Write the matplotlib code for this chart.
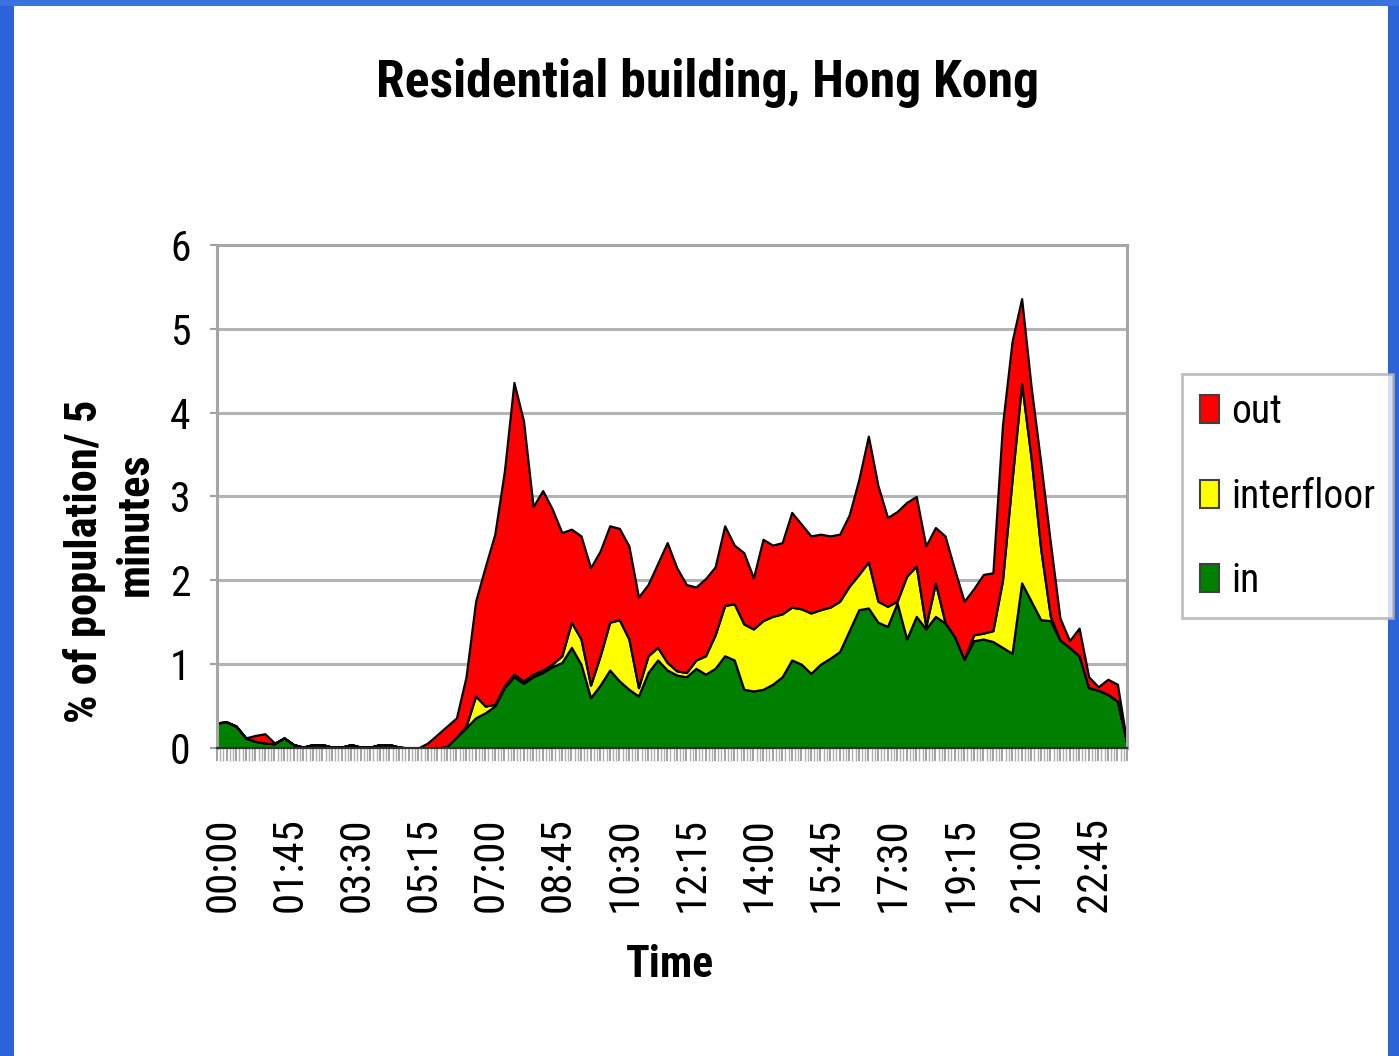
import matplotlib
matplotlib.use("Agg")
import matplotlib.pyplot as plt
import matplotlib.transforms as mtransforms
from matplotlib.patches import Patch, Rectangle
from matplotlib import font_manager

# ---------------- data (15-minute slots, % of population / 5 minutes) -------
times = [f"{h:02d}:{m:02d}" for h in range(24) for m in (0, 15, 30, 45)]

in_vals = [0.30, 0.31, 0.26, 0.12, 0.08, 0.06, 0.05, 0.12, 0.04, 0.01, 0.04, 0.04,
           0.01, 0.01, 0.04, 0.01, 0.01, 0.04, 0.04, 0.01, 0.00, 0.00, 0.00, 0.00,
           0.02, 0.13, 0.24, 0.36, 0.42, 0.50, 0.72, 0.85, 0.77, 0.85, 0.90, 0.97,
           1.02, 1.20, 1.00, 0.60, 0.75, 0.93, 0.80, 0.70, 0.62, 0.90, 1.05, 0.93,
           0.87, 0.85, 0.95, 0.88, 0.95, 1.10, 1.05, 0.70, 0.68, 0.70, 0.76, 0.85,
           1.05, 1.00, 0.89, 1.00, 1.07, 1.15, 1.40, 1.65, 1.67, 1.50, 1.45, 1.73,
           1.30, 1.57, 1.42, 1.57, 1.49, 1.33, 1.06, 1.28, 1.30, 1.27, 1.20, 1.13,
           1.97, 1.75, 1.53, 1.52, 1.29, 1.20, 1.10, 0.72, 0.69, 0.64, 0.56, 0.05]

interfloor_vals = [0.00, 0.00, 0.00, 0.00, 0.00, 0.00, 0.00, 0.00, 0.00, 0.00, 0.00, 0.00,
                   0.00, 0.00, 0.00, 0.00, 0.00, 0.00, 0.00, 0.00, 0.00, 0.00, 0.00, 0.00,
                   0.00, 0.00, 0.02, 0.26, 0.08, 0.02, 0.02, 0.03, 0.03, 0.03, 0.03, 0.03,
                   0.08, 0.30, 0.30, 0.15, 0.35, 0.57, 0.73, 0.60, 0.10, 0.20, 0.15, 0.09,
                   0.05, 0.05, 0.10, 0.22, 0.40, 0.60, 0.67, 0.78, 0.74, 0.82, 0.81, 0.75,
                   0.63, 0.66, 0.72, 0.65, 0.61, 0.60, 0.53, 0.42, 0.55, 0.25, 0.24, 0.02,
                   0.75, 0.60, 0.03, 0.40, 0.01, 0.00, 0.00, 0.07, 0.07, 0.13, 0.80, 2.07,
                   2.38, 1.70, 0.84, 0.05, 0.00, 0.00, 0.00, 0.00, 0.00, 0.00, 0.00, 0.00]

out_vals = [0.00, 0.00, 0.00, 0.00, 0.07, 0.11, 0.01, 0.00, 0.00, 0.00, 0.00, 0.00,
            0.00, 0.00, 0.00, 0.00, 0.00, 0.00, 0.00, 0.00, 0.00, 0.00, 0.06, 0.16,
            0.24, 0.23, 0.59, 1.13, 1.66, 2.03, 2.56, 3.48, 3.10, 2.00, 2.14, 1.85,
            1.47, 1.11, 1.23, 1.40, 1.25, 1.15, 1.09, 1.11, 1.08, 0.85, 1.00, 1.43,
            1.23, 1.05, 0.87, 0.92, 0.81, 0.95, 0.70, 0.85, 0.61, 0.97, 0.85, 0.85,
            1.13, 1.01, 0.92, 0.90, 0.85, 0.80, 0.85, 1.13, 1.50, 1.38, 1.06, 1.07,
            0.88, 0.83, 0.96, 0.66, 1.03, 0.80, 0.69, 0.55, 0.70, 0.69, 1.85, 1.65,
            1.01, 0.85, 1.03, 0.88, 0.26, 0.08, 0.33, 0.13, 0.04, 0.18, 0.20, 0.00]

series_names = ["in", "interfloor", "out"]
series_colors = ["#008000", "#ffff00", "#ff0000"]
label_every = 7
y_ticks = [0, 1, 2, 3, 4, 5, 6]

# ---------------- fonts ----------------
avail = {f.name for f in font_manager.fontManager.ttflist}
narrow = [f for f in ["Liberation Sans Narrow", "Arial Narrow", "Roboto Condensed",
                      "Open Sans Condensed", "Noto Sans Condensed"] if f in avail]
FAM = narrow[:1] + [f for f in ["Liberation Sans", "DejaVu Sans"] if f in avail]
plt.rcParams["font.family"] = FAM

W, H = 1399, 1056
fig = plt.figure(figsize=(W / 100, H / 100), dpi=100, facecolor="white")

# screenshot window frame (blue edges)
fig.patches.append(Rectangle((0, 0), 14 / W, 1, transform=fig.transFigure,
                             facecolor="#2c63d8", edgecolor="none", zorder=0))
fig.patches.append(Rectangle((1 - 11 / W, 0), 11 / W, 1, transform=fig.transFigure,
                             facecolor="#2c63d8", edgecolor="none", zorder=0))
fig.patches.append(Rectangle((0, 1 - 6 / H), 1, 6 / H, transform=fig.transFigure,
                             facecolor="#3a72e0", edgecolor="none", zorder=0))

left, right = 217 / W, 1127 / W
bottom, top = 1 - 748 / H, 1 - 245 / H
ax = fig.add_axes([left, bottom, right - left, top - bottom])

x = list(range(len(times)))
ax.stackplot(x, in_vals, interfloor_vals, out_vals, colors=series_colors,
             edgecolor="black", linewidth=1.6, labels=series_names)

ax.set_xlim(0, len(times) - 1)
ax.set_ylim(0, 6)
ax.set_yticks(y_ticks)
ax.set_yticklabels([str(v) for v in y_ticks], fontsize=30)
ax.yaxis.grid(True, color="#b4b4b4", linewidth=2.2)
ax.set_axisbelow(True)

ax.set_xticks(x)
ax.set_xticklabels([t if i % label_every == 0 else "" for i, t in enumerate(times)],
                   rotation=90, fontsize=31)
ax.set_xticks([v / 3 for v in range(3 * (len(times) - 1) + 1)], minor=True)
ax.tick_params(axis="x", which="major", length=9, width=1.2, color="#909090", pad=41)
ax.tick_params(axis="x", which="minor", length=9, width=1.0, color="#b0b0b0")
ax.tick_params(axis="y", length=5, width=1.5, color="#a0a0a0", pad=14)

offset = mtransforms.ScaledTranslation(6 / 100, 0, fig.dpi_scale_trans)
for lab in ax.get_xticklabels():
    lab.set_transform(lab.get_transform() + offset)

for s in ["left", "right", "top"]:
    ax.spines[s].set_color("#a6a6a6")
    ax.spines[s].set_linewidth(2.2)
ax.spines["bottom"].set_color("#303030")
ax.spines["bottom"].set_linewidth(1.6)

# texts
t_title = fig.text(708 / W, 1 - 83 / H, "Residential building, Hong Kong", ha="center",
                   va="center", fontsize=31, fontweight="bold")
t_time = fig.text(670 / W, 1 - 965 / H, "Time", ha="center", va="center",
                  fontsize=27, fontweight="bold")
t_y1 = fig.text(85 / W, 1 - 561 / H, "% of population/ 5", rotation=90, ha="center",
                va="center", fontsize=27, fontweight="bold")
t_y2 = fig.text(136 / W, 1 - 524 / H, "minutes", rotation=90, ha="center",
                va="center", fontsize=27, fontweight="bold")

# legend (reverse order: out, interfloor, in)
handles = [Patch(facecolor=c, edgecolor="#404040", linewidth=1.5)
           for c in series_colors][::-1]
leg = fig.legend(handles, series_names[::-1], loc="center",
                 bbox_to_anchor=((1188 + 1387) / 2 / W, 1 - (370 + 622) / 2 / H),
                 fontsize=28.5, frameon=True, fancybox=False, shadow=False,
                 handlelength=0.5, handleheight=0.72, handletextpad=0.3,
                 labelspacing=1.15, borderpad=0.45, borderaxespad=0)
leg.get_frame().set_edgecolor("#b0b0b0")
leg.get_frame().set_linewidth(2)

# fit text sizes to the measured widths in the reference (robust to font choice)
fig.canvas.draw()
r = fig.canvas.get_renderer()


def fit(t, target, use_height=False):
    bb = t.get_window_extent(r)
    cur = bb.height if use_height else bb.width
    if cur > 0:
        t.set_fontsize(t.get_fontsize() * target / cur)


fit(t_title, 662)
fit(t_time, 88)
fit(t_y1, 324, use_height=True)
fit(t_y2, 144, use_height=True)

fig.savefig("out.png", dpi=100, facecolor="white")
